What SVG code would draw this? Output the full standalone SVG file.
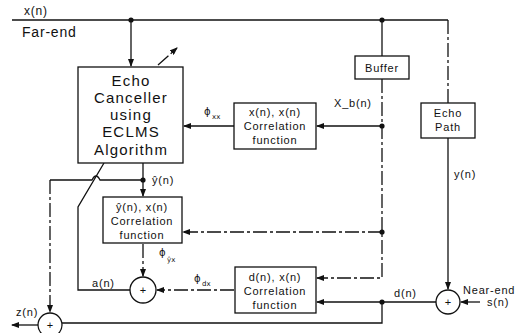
<svg xmlns="http://www.w3.org/2000/svg" width="529" height="333" viewBox="0 0 529 333">
<defs>
<marker id="ah" markerWidth="8" markerHeight="6" refX="7" refY="3" orient="auto" markerUnits="userSpaceOnUse">
<path d="M0,0 L8,3 L0,6 z" fill="#111"/>
</marker>
<style>
.ln{stroke:#111;stroke-width:1.3;fill:none}
.dd{stroke:#111;stroke-width:1.3;fill:none;stroke-dasharray:14 3 3 3}
.bx{stroke:#111;stroke-width:1.3;fill:#fff}
.t{font-family:"Liberation Sans",Arial,sans-serif;fill:#111;font-size:11px;letter-spacing:0.8px}
.tb{font-family:"Liberation Sans",Arial,sans-serif;fill:#111;font-size:15px;letter-spacing:1.2px}
.p{font-family:"DejaVu Sans",sans-serif;fill:#111;font-size:10px}
.s{font-family:"DejaVu Sans",sans-serif;fill:#111;font-size:7px}
</style>
</defs>
<rect width="529" height="333" fill="#fff"/>
<g id="connectors">
<path class="ln" d="M12,20 H448"/>
<path class="dd" d="M448,20 V103"/>
<path class="ln" d="M131,20 V66" marker-end="url(#ah)"/>
<path class="ln" d="M382,20 V56"/>
<path class="dd" d="M382,79 V278 H317" marker-end="url(#ah)"/>
<path class="ln" d="M382,126 H317" marker-end="url(#ah)"/>
<path class="ln" d="M234,126 H184" marker-end="url(#ah)"/>
<path class="dd" d="M382,232 H183" marker-end="url(#ah)"/>
<path class="dd" d="M158,65 L177,48" marker-end="url(#ah)"/>
<path class="ln" d="M143,163 V180"/>
<path class="ln" d="M143,180 V196" marker-end="url(#ah)"/>
<path class="ln" d="M143,180 H100 Q96,172 92,180 H50"/>
<path class="dd" d="M50,180 V312" marker-end="url(#ah)"/>
<path class="ln" d="M104,163 L78,207 V290 H130"/>
<path class="dd" d="M143,244 V276" marker-end="url(#ah)"/>
<path class="dd" d="M234,290 H157" marker-end="url(#ah)"/>
<path class="ln" d="M448,138 V289" marker-end="url(#ah)"/>
<path class="ln" d="M480,302 H461" marker-end="url(#ah)"/>
<path class="ln" d="M436,302 H317" marker-end="url(#ah)"/>
<path class="ln" d="M382,302 V323 H62"/>
<path class="ln" d="M38,325 H12" marker-end="url(#ah)"/>
<circle cx="131" cy="20" r="2.6" fill="#111"/>
<circle cx="382" cy="20" r="2.6" fill="#111"/>
<circle cx="382" cy="126" r="2.6" fill="#111"/>
<circle cx="382" cy="232" r="2.6" fill="#111"/>
<circle cx="382" cy="302" r="2.6" fill="#111"/>
<circle cx="143" cy="180" r="2.6" fill="#111"/>
</g>
<g id="labels">
<text class="t" x="24" y="15" style="font-size:12px">x(n)</text>
<text class="t" x="22" y="37" style="font-size:14px">Far-end</text>
<text class="t" x="334" y="107">X_b(n)</text>
<text class="t" x="454" y="178">y(n)</text>
<text class="t" x="394" y="297">d(n)</text>
<text class="t" x="463" y="294">Near-end</text>
<text class="t" x="487" y="306">s(n)</text>
<text class="t" x="152" y="184">ŷ(n)</text>
<text class="t" x="92" y="287">a(n)</text>
<text class="t" x="16" y="316">z(n)</text>
<text class="p" x="204" y="115">ϕ</text><text class="s" x="212" y="119">xx</text>
<text class="p" x="159" y="256">ϕ</text><text class="s" x="167" y="262">ŷx</text>
<text class="p" x="194" y="282">ϕ</text><text class="s" x="202" y="286">dx</text>
</g>
<g id="echo-canceller">
<rect class="bx" x="78" y="67" width="105" height="96"/>
<text class="tb" x="131" y="86" text-anchor="middle">Echo</text>
<text class="tb" x="131" y="103" text-anchor="middle">Canceller</text>
<text class="tb" x="131" y="120" text-anchor="middle">using</text>
<text class="tb" x="131" y="137" text-anchor="middle">ECLMS</text>
<text class="tb" x="131" y="155" text-anchor="middle">Algorithm</text>
</g>
<g id="buffer">
<rect class="bx" x="355" y="56" width="54" height="23"/>
<text class="t" x="382" y="72" text-anchor="middle">Buffer</text>
</g>
<g id="echo-path">
<rect class="bx" x="421" y="103" width="54" height="35"/>
<text class="t" x="448" y="117" text-anchor="middle">Echo</text>
<text class="t" x="448" y="131" text-anchor="middle">Path</text>
</g>
<g id="xx-corr">
<rect class="bx" x="234" y="103" width="82" height="46"/>
<text class="t" x="275" y="116" text-anchor="middle">x(n), x(n)</text>
<text class="t" x="275" y="130" text-anchor="middle">Correlation</text>
<text class="t" x="275" y="144" text-anchor="middle">function</text>
</g>
<g id="yx-corr">
<rect class="bx" x="103" y="197" width="79" height="46"/>
<text class="t" x="142" y="211" text-anchor="middle">ŷ(n), x(n)</text>
<text class="t" x="142" y="225" text-anchor="middle">Correlation</text>
<text class="t" x="142" y="239" text-anchor="middle">function</text>
</g>
<g id="dx-corr">
<rect class="bx" x="235" y="267" width="81" height="46"/>
<text class="t" x="275" y="281" text-anchor="middle">d(n), x(n)</text>
<text class="t" x="275" y="295" text-anchor="middle">Correlation</text>
<text class="t" x="275" y="309" text-anchor="middle">function</text>
</g>
<g id="sum-a">
<circle class="bx" cx="143" cy="290" r="13"/>
<text class="t" x="143" y="294" text-anchor="middle" style="letter-spacing:0">+</text>
</g>
<g id="sum-near">
<circle class="bx" cx="448" cy="302" r="12"/>
<text class="t" x="448" y="306" text-anchor="middle" style="letter-spacing:0">+</text>
</g>
<g id="sum-out">
<circle class="bx" cx="50" cy="325" r="12"/>
<text class="t" x="50" y="329" text-anchor="middle" style="letter-spacing:0">+</text>
</g>
</svg>
